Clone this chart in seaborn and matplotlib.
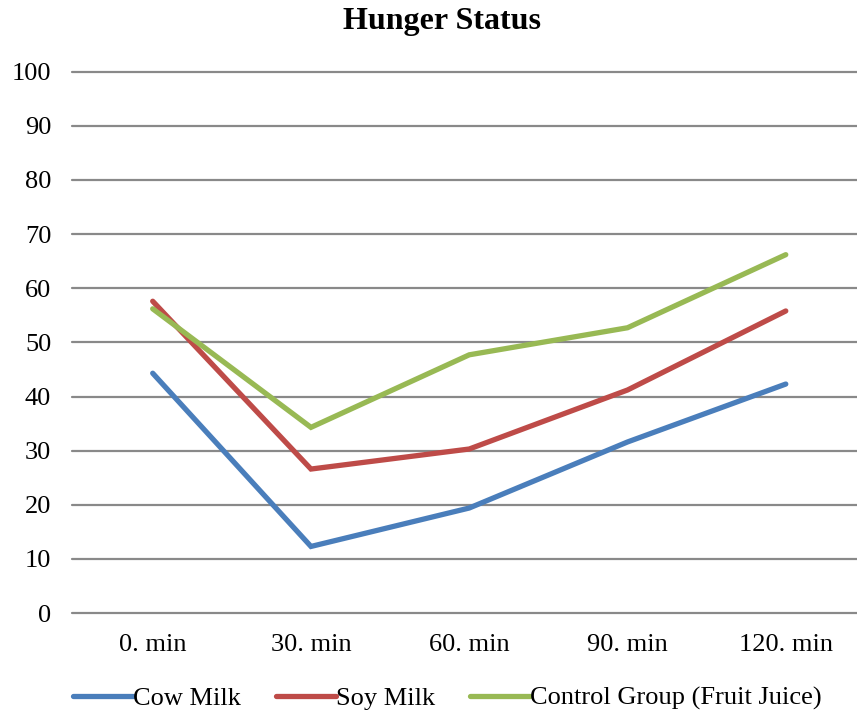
import matplotlib
matplotlib.use("Agg")
import matplotlib.pyplot as plt
import seaborn as sns
import pandas as pd

times = ["0. min", "30. min", "60. min", "90. min", "120. min"]
cow_milk = [44.3, 12.3, 19.4, 31.6, 42.3]
soy_milk = [57.6, 26.6, 30.3, 41.2, 55.8]
control_group = [56.2, 34.3, 47.7, 52.7, 66.2]
series_names = ["Cow Milk", "Soy Milk", "Control Group (Fruit Juice)"]
colors = ["#4a7ebb", "#be4b48", "#98b954"]
y_ticks = list(range(0, 101, 10))

rows = []
for name, vals in zip(series_names, [cow_milk, soy_milk, control_group]):
    for t, v in zip(times, vals):
        rows.append({"time": t, "value": v, "group": name})
df = pd.DataFrame(rows)

sns.set_style("white")
plt.rcParams["font.family"] = ["Liberation Serif", "DejaVu Serif"]
plt.rcParams["text.color"] = "black"
plt.rcParams["xtick.color"] = "black"
plt.rcParams["ytick.color"] = "black"

fig = plt.figure(figsize=(8.57, 7.17), dpi=100)
ax = fig.add_axes([0.084, 0.145, 0.916, 0.755])

for y in y_ticks:
    ax.axhline(y, color="#898989", lw=1.6, zorder=0, clip_on=False)

sns.lineplot(data=df, x="time", y="value", hue="group", hue_order=series_names,
             palette=colors, sort=False, linewidth=3.8, ax=ax, legend=False,
             solid_capstyle="round", solid_joinstyle="miter")

ax.set_xlim(-0.51, 4.45)
ax.set_ylim(0, 100)
ax.set_yticks(y_ticks)
ax.set_xticks(range(len(times)))
ax.set_xticklabels(times)
ax.tick_params(axis="both", length=0, labelsize=19, labelcolor="black")
ax.tick_params(axis="x", pad=15)
ax.tick_params(axis="y", pad=15)
ax.set_xlabel("")
ax.set_ylabel("")
for s in ax.spines.values():
    s.set_visible(False)

fig.suptitle("Hunger Status", x=0.516, y=0.99, fontsize=23, fontweight="bold", color="black")

handles = [plt.Line2D([], [], color=c, lw=3.8) for c in colors]
fig.legend(handles, series_names, loc="lower center", bbox_to_anchor=(0.522, -0.024),
           ncol=3, frameon=False, fontsize=19, handlelength=2.25,
           handletextpad=0.0, columnspacing=1.35, labelcolor="black")

fig.savefig("out.png", dpi=100)
